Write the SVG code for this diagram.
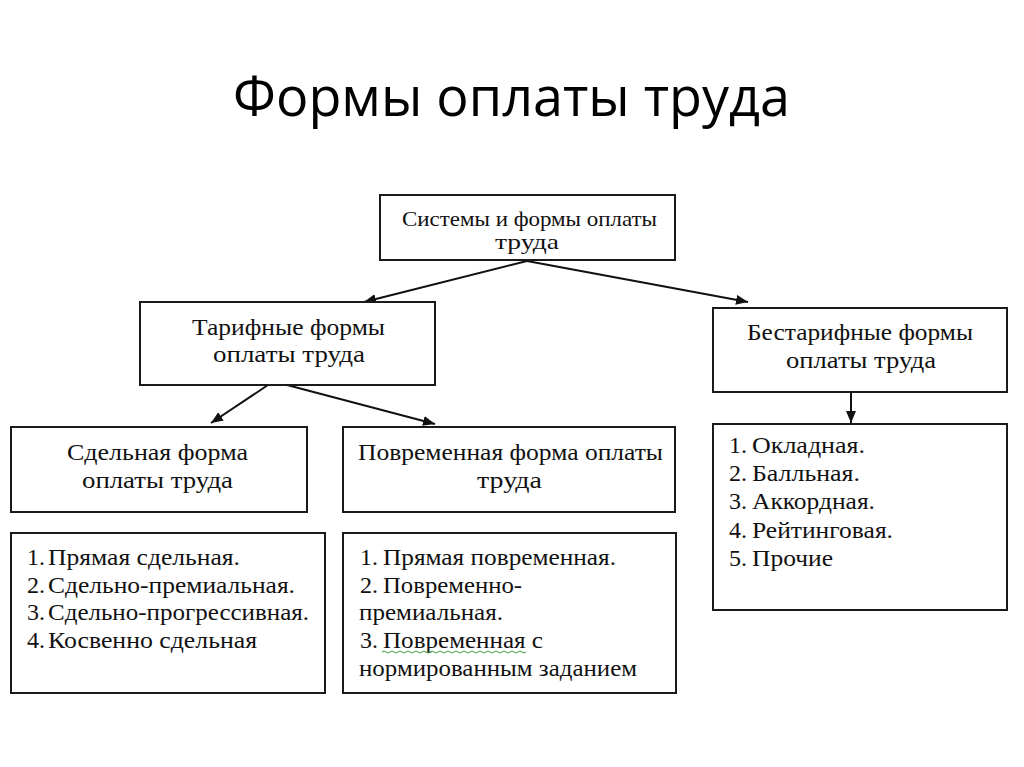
<svg xmlns="http://www.w3.org/2000/svg" width="1024" height="767" viewBox="0 0 1024 767">
<defs>
<marker id="ah" viewBox="0 0 12 10" refX="12" refY="5" markerWidth="12" markerHeight="10" markerUnits="userSpaceOnUse" orient="auto">
<path d="M0,0 L12,5 L0,10 Z" fill="#111"/>
</marker>
<style>
.box{fill:#fff;stroke:#1a1a1a;stroke-width:2}
.t{font-family:"Liberation Serif","Times New Roman",serif;font-size:24px;fill:#111}
.s{font-size:21px}
.title{font-family:"Open Sans","Noto Sans","Liberation Sans",sans-serif;font-size:54px;fill:#000}
.conn{stroke:#111;stroke-width:2;fill:none;marker-end:url(#ah)}
</style>
</defs>
<rect width="1024" height="767" fill="#fff"/>
<text class="title" x="233" y="116" textLength="557" lengthAdjust="spacingAndGlyphs">Формы оплаты труда</text>

<g id="connectors">
<line class="conn" x1="527" y1="261" x2="364" y2="302"/>
<line class="conn" x1="527" y1="261" x2="748" y2="302"/>
<line class="conn" x1="268" y1="385" x2="211" y2="423"/>
<line class="conn" x1="287" y1="385" x2="435" y2="424"/>
<line class="conn" x1="851" y1="392" x2="851" y2="423"/>
</g>

<g id="n-systems">
<rect class="box" x="380" y="195" width="295" height="65"/>
<text class="t s" x="402" y="226" textLength="255" lengthAdjust="spacingAndGlyphs">Системы и формы оплаты</text>
<text class="t s" x="495" y="249" textLength="64" lengthAdjust="spacingAndGlyphs">труда</text>
</g>

<g id="n-tariff">
<rect class="box" x="140" y="302" width="295" height="83"/>
<text class="t" x="192" y="335" textLength="193" lengthAdjust="spacingAndGlyphs">Тарифные формы</text>
<text class="t" x="213" y="362" textLength="152" lengthAdjust="spacingAndGlyphs">оплаты труда</text>
</g>

<g id="n-nontariff">
<rect class="box" x="713" y="308" width="294" height="84"/>
<text class="t" x="747" y="340" textLength="226" lengthAdjust="spacingAndGlyphs">Бестарифные формы</text>
<text class="t" x="786" y="368" textLength="150" lengthAdjust="spacingAndGlyphs">оплаты труда</text>
</g>

<g id="n-piece">
<rect class="box" x="11" y="427" width="296" height="85"/>
<text class="t" x="67" y="460" textLength="181" lengthAdjust="spacingAndGlyphs">Сдельная форма</text>
<text class="t" x="82" y="488" textLength="151" lengthAdjust="spacingAndGlyphs">оплаты труда</text>
</g>

<g id="n-time">
<rect class="box" x="343" y="427" width="332" height="85"/>
<text class="t" x="358" y="460" textLength="305" lengthAdjust="spacingAndGlyphs">Повременная форма оплаты</text>
<text class="t" x="477" y="488" textLength="65" lengthAdjust="spacingAndGlyphs">труда</text>
</g>

<g id="n-piece-list">
<rect class="box" x="11" y="533" width="314" height="160"/>
<text class="t" x="27" y="565">1.</text>
<text class="t" x="48" y="565" textLength="192" lengthAdjust="spacingAndGlyphs">Прямая сдельная.</text>
<text class="t" x="27" y="593">2.</text>
<text class="t" x="48" y="593" textLength="247" lengthAdjust="spacingAndGlyphs">Сдельно-премиальная.</text>
<text class="t" x="27" y="620">3.</text>
<text class="t" x="48" y="620" textLength="261" lengthAdjust="spacingAndGlyphs">Сдельно-прогрессивная.</text>
<text class="t" x="27" y="648">4.</text>
<text class="t" x="48" y="648" textLength="209" lengthAdjust="spacingAndGlyphs">Косвенно сдельная</text>
</g>

<g id="n-time-list">
<rect class="box" x="343" y="533" width="333" height="160"/>
<text class="t" x="360" y="565">1.</text>
<text class="t" x="383" y="565" textLength="233" lengthAdjust="spacingAndGlyphs">Прямая повременная.</text>
<text class="t" x="360" y="593">2.</text>
<text class="t" x="383" y="593" textLength="139" lengthAdjust="spacingAndGlyphs">Повременно-</text>
<text class="t" x="359" y="620" textLength="144" lengthAdjust="spacingAndGlyphs">премиальная.</text>
<text class="t" x="360" y="648">3.</text>
<text class="t" x="383" y="648" textLength="160" lengthAdjust="spacingAndGlyphs">Повременная с</text>
<path d="M382,652 q2,-2 4,0 t4,0 t4,0 t4,0 t4,0 t4,0 t4,0 t4,0 t4,0 t4,0 t4,0 t4,0 t4,0 t4,0 t4,0 t4,0 t4,0 t4,0 t4,0 t4,0 t4,0 t4,0 t4,0 t4,0 t4,0 t4,0 t4,0 t4,0 t4,0 t4,0 t4,0 t4,0 t4,0 t4,0 t4,0 t4,0" fill="none" stroke="#3a9a3a" stroke-width="1"/>
<text class="t" x="359" y="676" textLength="278" lengthAdjust="spacingAndGlyphs">нормированным заданием</text>
</g>

<g id="n-nontariff-list">
<rect class="box" x="713" y="424" width="294" height="186"/>
<text class="t" x="729" y="453">1.</text>
<text class="t" x="752" y="453" textLength="113" lengthAdjust="spacingAndGlyphs">Окладная.</text>
<text class="t" x="729" y="481">2.</text>
<text class="t" x="752" y="481" textLength="108" lengthAdjust="spacingAndGlyphs">Балльная.</text>
<text class="t" x="729" y="509">3.</text>
<text class="t" x="752" y="509" textLength="123" lengthAdjust="spacingAndGlyphs">Аккордная.</text>
<text class="t" x="729" y="538">4.</text>
<text class="t" x="752" y="538" textLength="141" lengthAdjust="spacingAndGlyphs">Рейтинговая.</text>
<text class="t" x="729" y="566">5.</text>
<text class="t" x="752" y="566" textLength="81" lengthAdjust="spacingAndGlyphs">Прочие</text>
</g>
</svg>
